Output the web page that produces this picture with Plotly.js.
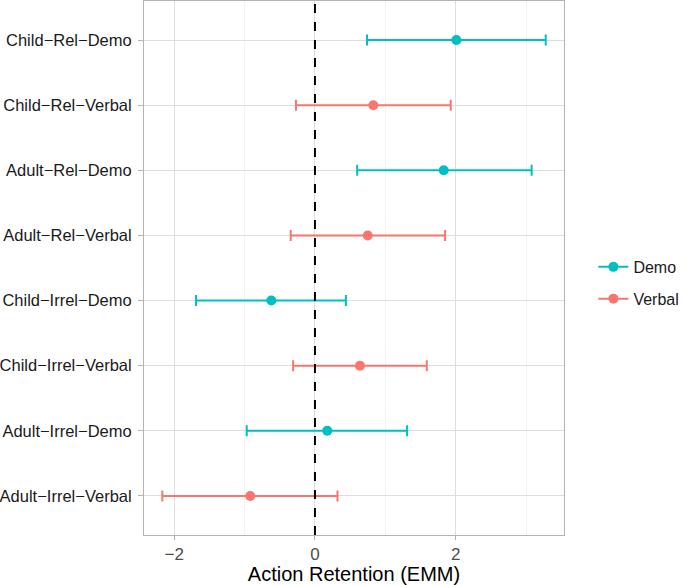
<!DOCTYPE html>
<html>
<head>
<meta charset="utf-8">
<script src="https://cdn.plot.ly/plotly-3.0.1.min.js"></script>
<style>html,body{margin:0;padding:0;background:#fff;}#chart{width:685px;height:585px;}</style>
</head>
<body>
<div id="chart"></div>
<script>
const M = '\u2212';
const categories = ['Child'+M+'Rel'+M+'Demo','Child'+M+'Rel'+M+'Verbal','Adult'+M+'Rel'+M+'Demo','Adult'+M+'Rel'+M+'Verbal',
  'Child'+M+'Irrel'+M+'Demo','Child'+M+'Irrel'+M+'Verbal','Adult'+M+'Irrel'+M+'Demo','Adult'+M+'Irrel'+M+'Verbal'];
const demoCats = [categories[0], categories[2], categories[4], categories[6]];
const demoEmm   = [2.01, 1.83, -0.62, 0.175];
const demoLower = [0.74, 0.60, -1.69, -0.97];
const demoUpper = [3.28, 3.08, 0.44, 1.31];
const verbalCats = [categories[1], categories[3], categories[5], categories[7]];
const verbalEmm   = [0.83, 0.75, 0.64, -0.92];
const verbalLower = [-0.27, -0.345, -0.31, -2.17];
const verbalUpper = [1.93, 1.85, 1.59, 0.32];
const xTicks = [-2, 0, 2];

const cDemo = '#00BFC4', cVerbal = '#F8766D';
function tr(name, cats, emm, lo, hi, col) {
  return {
    type: 'scatter', mode: 'markers', name: name, showlegend: false,
    x: emm, y: cats,
    marker: {color: col, size: 10},
    error_x: {type: 'data', symmetric: false,
      array: emm.map((v, i) => hi[i] - v),
      arrayminus: emm.map((v, i) => v - lo[i]),
      color: col, thickness: 2, width: 5.5}
  };
}
function leg(name, col, grp) {
  return {type: 'scatter', mode: 'lines+markers', name: name, x: [null], y: [null], legendgroup: grp,
    line: {color: col, width: 2}, marker: {color: col, size: 10}, showlegend: true};
}
const data = [
  tr('Demo', demoCats, demoEmm, demoLower, demoUpper, cDemo),
  tr('Verbal', verbalCats, verbalEmm, verbalLower, verbalUpper, cVerbal),
  leg('Demo', cDemo, 'd'), leg('Verbal', cVerbal, 'v')
];
const layout = {
  width: 685, height: 585,
  margin: {l: 144, r: 121, t: 1, b: 50},
  paper_bgcolor: '#fff', plot_bgcolor: '#fff',
  font: {family: '"Liberation Sans", Arial, sans-serif', color: '#4D4D4D'},
  showlegend: true,
  legend: {x: 1.07, xanchor: 'left', y: 0.472, yanchor: 'middle', font: {size: 16, color: '#1A1A1A'},
    itemwidth: 30, tracegroupgap: 8, bgcolor: 'rgba(0,0,0,0)'},
  xaxis: {
    range: [-2.43, 3.54], tickvals: xTicks, ticktext: xTicks.map(v => v < 0 ? M + Math.abs(v) : String(v)),
    showgrid: true, gridcolor: '#DEDEDE', gridwidth: 1,
    minor: {dtick: 1, showgrid: true, gridcolor: '#EBEBEB', gridwidth: 0.6, tickmode: 'linear', tick0: -3},
    zeroline: false, ticks: 'outside', ticklen: 4, tickcolor: '#B3B3B3', tickwidth: 1,
    tickfont: {size: 17, color: '#4D4D4D'},
    showline: true, mirror: true, linecolor: '#B3B3B3', linewidth: 1,
    title: {text: 'Action Retention (EMM)', font: {size: 20, color: '#000'}, standoff: 3}
  },
  yaxis: {
    type: 'category', categoryorder: 'array', categoryarray: categories,
    range: [7.6, -0.6], autorange: false,
    showgrid: true, gridcolor: '#DEDEDE', gridwidth: 1, zeroline: false,
    ticks: 'outside', ticklen: 5, tickcolor: '#B3B3B3', tickwidth: 1,
    tickfont: {size: 16.5, color: '#1A1A1A'}, ticklabelstandoff: 3,
    showline: true, mirror: true, linecolor: '#B3B3B3', linewidth: 1
  },
  shapes: [{type: 'line', xref: 'x', yref: 'paper', x0: 0, x1: 0, y0: 0, y1: 1,
    line: {color: '#000', width: 2, dash: 'dash'}, layer: 'above'}]
};
Plotly.newPlot('chart', data, layout, {displayModeBar: false, staticPlot: true});
</script>
</body>
</html>
